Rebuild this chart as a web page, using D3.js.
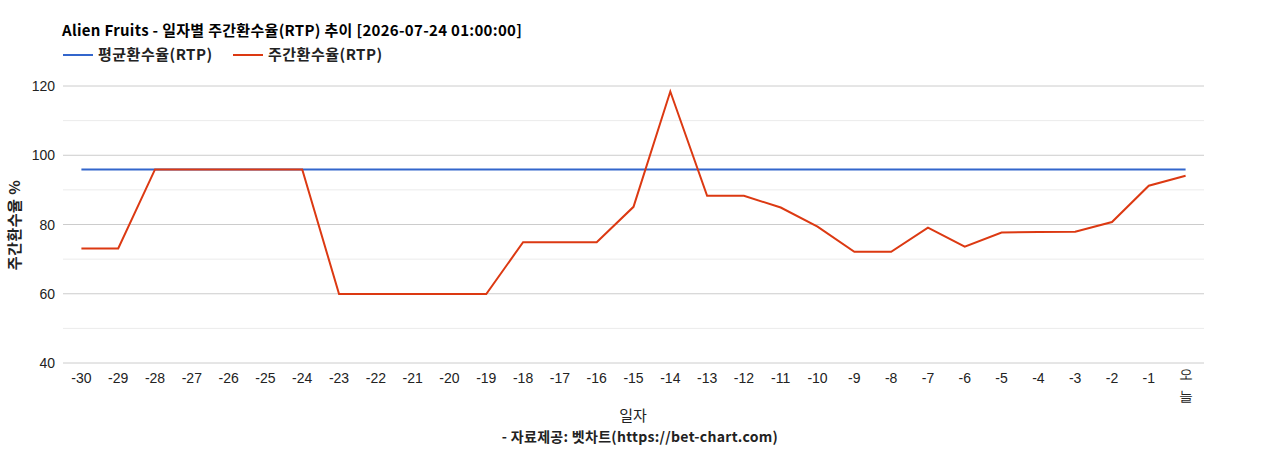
<!DOCTYPE html>
<html><head><meta charset="utf-8">
<script src="https://cdn.jsdelivr.net/npm/d3@7"></script>
<style>
body{margin:0;background:#fff;}
text{font-family:"Noto Sans CJK KR","Noto Sans",Arial,sans-serif;}
</style></head>
<body><svg id="c" width="1268" height="450"></svg>
<script>
const categories = ["-30","-29","-28","-27","-26","-25","-24","-23","-22","-21","-20","-19","-18","-17","-16","-15","-14","-13","-12","-11","-10","-9","-8","-7","-6","-5","-4","-3","-2","-1","오늘"];
const weeklyRTP = [73.1,73.1,95.9,95.9,95.9,95.9,95.9,59.9,59.9,59.9,59.9,59.9,74.9,74.9,74.9,85.1,118.4,88.3,88.3,84.9,79.4,72.1,72.1,79.1,73.6,77.7,77.8,77.9,80.7,91.2,94.1];
const avgRTP = categories.map(() => 95.9);
const yTicks = [40,60,80,100,120];
const yMinor = [50,70,90,110];
const seriesNames = ["평균환수율(RTP)","주간환수율(RTP)"];
const colors = ["#3366cc","#dc3912"];

const svg = d3.select("#c");
const L=63,R=1204,T=86,B=363;
const x = d3.scalePoint().domain(categories).range([L,R]).padding(0.5);
const y = d3.scaleLinear().domain([40,120]).range([B,T]);

// gridlines
svg.append("g").selectAll("line").data(yMinor).join("line")
  .attr("x1",L).attr("x2",R).attr("y1",d=>y(d)).attr("y2",d=>y(d))
  .attr("stroke","#ebebeb").attr("stroke-width",1);
svg.append("g").selectAll("line").data(yTicks).join("line")
  .attr("x1",L).attr("x2",R).attr("y1",d=>y(d)).attr("y2",d=>y(d))
  .attr("stroke","#cccccc").attr("stroke-width",1);

// y labels
svg.append("g").selectAll("text").data(yTicks).join("text")
  .attr("x",55).attr("y",d=>y(d)+5).attr("text-anchor","end")
  .style("font-family","Arial,'Liberation Sans',sans-serif").style("font-size","14px").attr("fill","#222")
  .text(d=>d);

// x labels
const xl = svg.append("g").selectAll("text").data(categories).join("text")
  .attr("x",d=>x(d)).attr("y",383).attr("text-anchor","middle")
  .style("font-family","Arial,'Liberation Sans',sans-serif").style("font-size","14px").attr("fill","#222");
xl.each(function(d){
  const t=d3.select(this);
  if(d.length===2 && !d.startsWith("-")){
    t.append("tspan").attr("x",x(d)).attr("dy",-4).text(d[0]);
    t.append("tspan").attr("x",x(d)).attr("dy",22).text(d[1]);
  } else t.text(d);
});

// lines
const line = d3.line().x((d,i)=>x(categories[i])).y(d=>y(d));
svg.append("path").datum(avgRTP).attr("d",line).attr("fill","none").attr("stroke",colors[0]).attr("stroke-width",2);
svg.append("path").datum(weeklyRTP).attr("d",line).attr("fill","none").attr("stroke",colors[1]).attr("stroke-width",2);

// title
svg.append("text").attr("x",62).attr("y",36).style("font-size","15px").style("letter-spacing","0.3px").style("font-weight","bold").attr("fill","#000")
  .text("Alien Fruits - 일자별 주간환수율(RTP) 추이 [2026-07-24 01:00:00]");
// legend
const lx=[63,233];
seriesNames.forEach((n,i)=>{
  svg.append("line").attr("x1",lx[i]).attr("x2",lx[i]+30).attr("y1",55).attr("y2",55).attr("stroke",colors[i]).attr("stroke-width",2);
  svg.append("text").attr("x",lx[i]+35).attr("y",60).style("font-size","15px").style("letter-spacing","0.5px").style("font-weight","bold").attr("fill","#222").text(n);
});
// axis titles
svg.append("text").attr("transform","translate(20,225) rotate(-90)").attr("text-anchor","middle")
  .style("font-size","15px").style("letter-spacing","0.5px").style("font-weight","bold").attr("fill","#222").text("주간환수율 %");
svg.append("text").attr("x",633).attr("y",421).attr("text-anchor","middle")
  .style("font-size","15px").attr("fill","#222").text("일자");
svg.append("text").attr("x",640).attr("y",442).attr("text-anchor","middle")
  .style("font-size","14px").style("letter-spacing","0.3px").style("font-weight","bold").attr("fill","#222").text("- 자료제공: 벳차트(https://bet-chart.com)");
</script></body></html>
